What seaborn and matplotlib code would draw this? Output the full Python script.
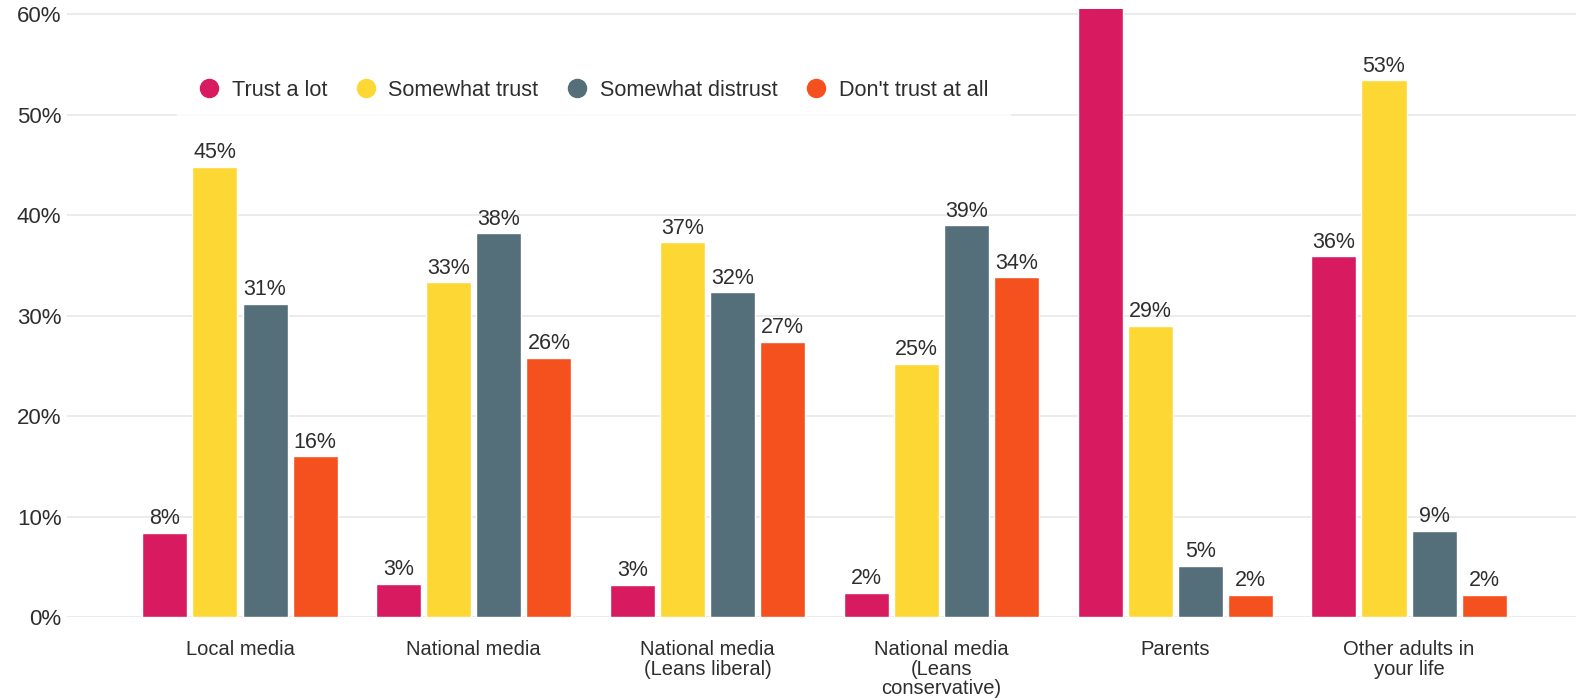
import pandas as pd
import matplotlib.pyplot as plt
import seaborn as sns
from matplotlib.lines import Line2D

# Data (percent)
categories = ["Local media", "National media", "National media\n(Leans liberal)",
              "National media\n(Leans\nconservative)", "Parents", "Other adults in\nyour life"]
responses = ["Trust a lot", "Somewhat trust", "Somewhat distrust", "Don't trust at all"]
trust_a_lot = [8.4, 3.3, 3.2, 2.4, 68.0, 35.9]
somewhat_trust = [44.8, 33.3, 37.3, 25.2, 29.0, 53.4]
somewhat_distrust = [31.2, 38.2, 32.3, 39.0, 5.1, 8.6]
dont_trust = [16.0, 25.8, 27.4, 33.8, 2.2, 2.2]
colors = ["#D81B60", "#FDD835", "#546E7A", "#F4511E"]

rows = []
for resp, vals in zip(responses, [trust_a_lot, somewhat_trust, somewhat_distrust, dont_trust]):
    for cat, v in zip(categories, vals):
        rows.append({"category": cat, "response": resp, "value": v})
df = pd.DataFrame(rows)

sns.set_style("white")
plt.rcParams['font.family'] = ['Liberation Sans', 'DejaVu Sans']
text_color = "#2e2e2e"

fig = plt.figure(figsize=(15.76, 6.98), dpi=100)
ax = fig.add_axes([0.0425, 0.116, 0.9575, 0.871])

sns.barplot(data=df, x="category", y="value", hue="response", order=categories,
            hue_order=responses, palette=colors, saturation=1, width=0.857, gap=0.1,
            legend=False, ax=ax, zorder=3)

# value labels (label of the clipped Parents bar is hidden automatically)
for cont in ax.containers:
    ax.bar_label(cont, fmt="%.0f%%", padding=2.5, fontsize=15.5, color=text_color)

ax.set_ylim(0, 60.5)
ax.set_xlim(-0.74, 5.714)
ax.set_yticks(range(0, 61, 10))
ax.set_yticklabels([f"{t}%" for t in range(0, 61, 10)])
ax.yaxis.grid(True, color="#e9e9e9", linewidth=1.3, zorder=0)
ax.set_axisbelow(True)
for s in ax.spines.values():
    s.set_visible(False)
ax.set_xlabel("")
ax.set_ylabel("")
ax.tick_params(axis="y", length=0, pad=4, labelsize=16, labelcolor=text_color)
ax.tick_params(axis="x", length=0, pad=16.5, labelsize=14.5, labelcolor=text_color)
for lab in ax.get_xticklabels():
    lab.set_linespacing(1.05)

handles = [Line2D([], [], marker="o", linestyle="", markersize=13,
                  markerfacecolor=c, markeredgecolor=c) for c in colors]
leg = ax.legend(handles, responses, ncol=4, loc="center", bbox_to_anchor=(0.349, 0.866),
                fontsize=15.6, frameon=True, handlelength=0.9, handletextpad=0.6,
                columnspacing=1.33, borderpad=1.0, fancybox=False)
leg.get_frame().set_facecolor("white")
leg.get_frame().set_edgecolor("white")
for t in leg.get_texts():
    t.set_color(text_color)
leg.set_zorder(2)

fig.savefig("out.png", dpi=100, facecolor="white")
